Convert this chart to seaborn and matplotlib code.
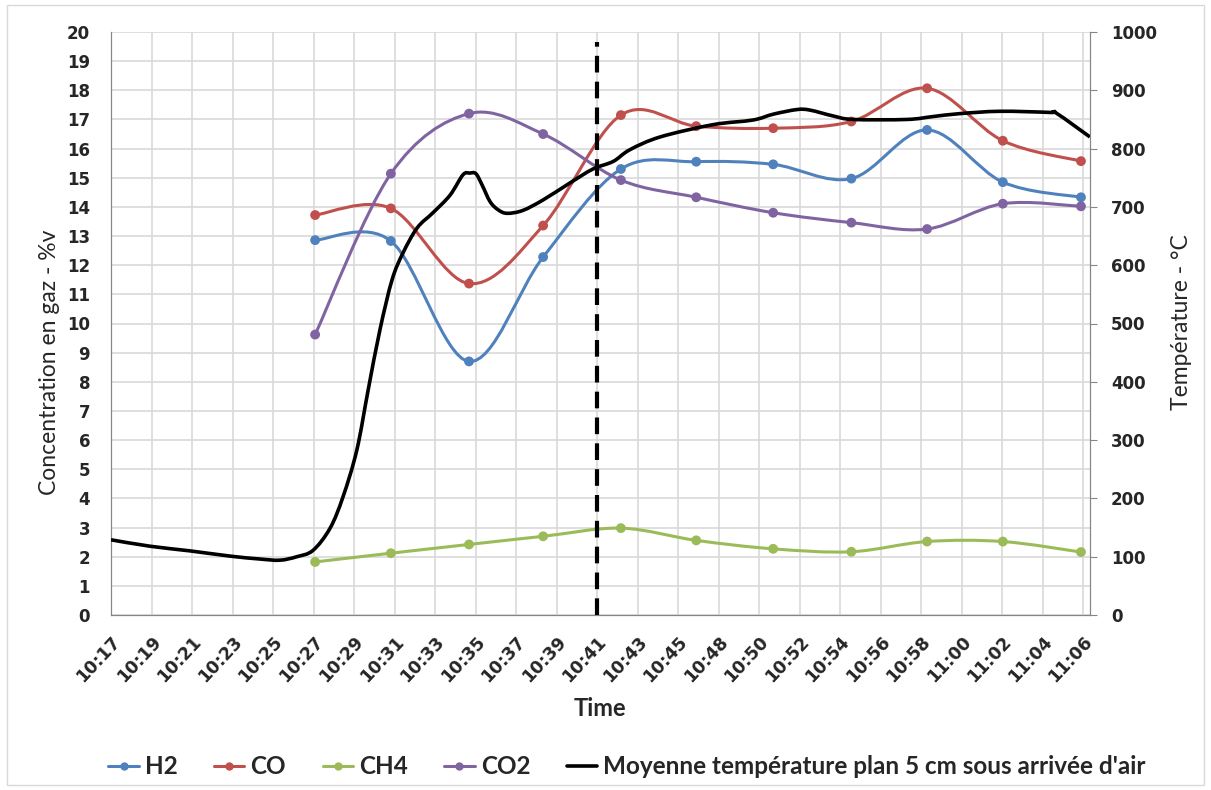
import numpy as np
import matplotlib
matplotlib.use("Agg")
import matplotlib.pyplot as plt
import seaborn as sns
from matplotlib.path import Path
from matplotlib.patches import PathPatch, Rectangle
from matplotlib.lines import Line2D

# --- DATA (x positions are in category-label units, 0 = 10:17) ---
time_labels = ["10:17", "10:19", "10:21", "10:23", "10:25", "10:27", "10:29", "10:31",
               "10:33", "10:35", "10:37", "10:39", "10:41", "10:43", "10:45", "10:48",
               "10:50", "10:52", "10:54", "10:56", "10:58", "11:00", "11:02", "11:04",
               "11:06"]

gas_pos = [5.04, 6.91, 8.84, 10.67, 12.59, 14.45, 16.35, 18.28, 20.15, 22.02, 23.95]
h2 = [12.86, 12.83, 8.70, 12.28, 15.30, 15.55, 15.46, 14.97, 16.64, 14.85, 14.33]
co = [13.72, 13.95, 11.37, 13.36, 17.15, 16.77, 16.70, 16.93, 18.07, 16.27, 15.57]
ch4 = [1.82, 2.12, 2.42, 2.70, 2.98, 2.56, 2.27, 2.17, 2.52, 2.52, 2.16]
co2 = [9.62, 15.14, 17.20, 16.50, 14.92, 14.33, 13.80, 13.46, 13.24, 14.11, 14.02]

temp_pos = [0.0, 0.96, 1.95, 2.94, 3.68, 4.17, 4.59, 4.99, 5.41, 5.73, 6.07, 6.35,
            6.64, 6.94, 7.21, 7.56, 7.95, 8.37, 8.69, 8.86, 9.01, 9.16, 9.36, 9.56,
            9.78, 10.17, 10.67, 11.33, 11.90, 12.40, 12.81, 13.56, 14.86, 15.85,
            16.35, 16.94, 17.26, 17.83, 18.32, 19.65, 20.30, 20.96, 21.95, 23.19,
            23.36, 24.17]
temp_val = [129, 118, 110, 101, 96, 94, 100, 111, 149, 203, 283, 386,
            489, 575, 621, 664, 690, 720, 755, 758, 757, 738, 709, 695,
            689, 694, 712, 741, 765, 778, 798, 820, 841, 849,
            859, 867, 866, 856, 850, 850, 855, 860, 864, 862,
            860, 820]

air_switch_pos = 12  # 10:41

COLORS = {
    "H2": "#4F81BD",
    "CO": "#C0504D",
    "CH4": "#9BBB59",
    "CO2": "#8064A2",
    "Temp": "#000000",
}


def smooth_path(xs, ys):
    """Excel-like smoothed line: cubic Bezier through the points."""
    pts = np.column_stack([xs, ys]).astype(float)
    n = len(pts)
    verts = [pts[0]]
    codes = [Path.MOVETO]
    for i in range(n - 1):
        p0 = pts[max(i - 1, 0)]
        p1 = pts[i]
        p2 = pts[i + 1]
        p3 = pts[min(i + 2, n - 1)]
        verts += [p1 + (p2 - p0) / 6, p2 - (p3 - p1) / 6, p2]
        codes += [Path.CURVE4] * 3
    return Path(verts, codes)


sns.set_style("white")
plt.rcParams["font.family"] = ["Lato", "DejaVu Sans"]

fig = plt.figure(figsize=(12.11, 7.9), dpi=100)
ax = fig.add_axes([111 / 1211, 1 - 615 / 790, (1090 - 111) / 1211, (615 - 32) / 790])
ax2 = ax.twinx()

xmax = (1090 - 111) / 40.5
ax.set_xlim(0, xmax)
ax.set_ylim(0, 20)
ax2.set_ylim(0, 1000)

# gridlines
ax.set_xticks(range(len(time_labels)))
ax.set_xticklabels(time_labels, rotation=47, ha="right", rotation_mode="anchor",
                   fontsize=12.5, fontweight="bold", family="DejaVu Sans")
ax.set_yticks(range(0, 21))
ax.set_yticklabels([str(v) for v in range(0, 21)], fontsize=12, fontweight="bold",
                   family="DejaVu Sans")
ax.grid(True, color="#d9d9d9", lw=1.2)
ax.set_axisbelow(True)
ax.tick_params(axis="y", length=0, pad=15)
ax.tick_params(axis="x", length=0, pad=13)

ax2.set_yticks(range(0, 1001, 100))
ax2.set_yticklabels([str(v) for v in range(0, 1001, 100)], fontsize=12,
                    fontweight="bold", family="DejaVu Sans")
ax2.tick_params(axis="y", length=5, color="#868686", pad=10)
ax2.grid(False)

for a in (ax, ax2):
    for s in a.spines.values():
        s.set_color("#868686")
    a.spines["top"].set_visible(False)

# gas series: smooth line + markers
for name, vals in [("H2", h2), ("CO", co), ("CH4", ch4), ("CO2", co2)]:
    ax.add_patch(PathPatch(smooth_path(gas_pos, vals), facecolor="none",
                           edgecolor=COLORS[name], lw=2.2, zorder=3))
    sns.scatterplot(x=gas_pos, y=vals, ax=ax, color=COLORS[name], s=50,
                    edgecolor="none", zorder=4)

# temperature on the secondary axis
ax2.add_patch(PathPatch(smooth_path(temp_pos, temp_val), facecolor="none",
                        edgecolor=COLORS["Temp"], lw=2.6, zorder=5))

# air inlet switch marker
ax.axvline(air_switch_pos, ymin=0, ymax=0.983, color="black", lw=3,
           linestyle=(0, (4, 2.2)), zorder=6)

ax.set_xlabel("Time", fontsize=17, fontweight="bold")
ax.xaxis.set_label_coords((600 - 111) / 979, (615 - 709) / 583)
ax.xaxis.label.set_va("center")
ax.set_ylabel("Concentration en gaz - %v", fontsize=16.5)
ax.yaxis.set_label_coords((50 - 111) / 979, (615 - 362) / 583)
ax.yaxis.label.set_va("center")
ax2.set_ylabel("Température - °C", fontsize=16.5)
ax2.yaxis.set_label_coords((1181 - 111) / 979, (615 - 322) / 583)
ax2.yaxis.label.set_va("center")

handles = [Line2D([], [], color=COLORS[k], marker="o", markersize=5, lw=2.2)
           for k in ["H2", "CO", "CH4", "CO2"]]
handles.append(Line2D([], [], color="black", lw=2.6))
labels = ["H2", "CO", "CH4", "CO2", "Moyenne température plan 5 cm sous arrivée d'air"]
fig.legend(handles, labels, loc="center", bbox_to_anchor=(627 / 1211, 1 - 767 / 790),
           ncol=5, frameon=False, prop={"size": 17.5, "weight": "bold"},
           handlelength=1.25, handletextpad=0.25, columnspacing=1.5)

fig.patches.append(Rectangle((7 / 1211, 5 / 790), 1 - 14 / 1211, 1 - 10 / 790,
                             transform=fig.transFigure, fill=False,
                             edgecolor="#d9d9d9", lw=1))

fig.savefig("out.png", dpi=100)
